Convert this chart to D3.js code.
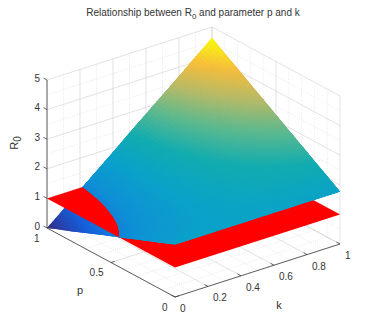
<!DOCTYPE html>
<html lang="en">
<head>
<meta charset="UTF-8">
<title>R0 surface</title>
<style>
    html, body { margin: 0; padding: 0; background: #fff; }
    svg { display: block; }
    text { font-family: "Liberation Sans", Arial, sans-serif; fill: #333; }
</style>
</head>
<body>
<div id="container"></div>
<script src="https://cdnjs.cloudflare.com/ajax/libs/d3/7.8.5/d3.min.js"></script>
<script>
"use strict";

var kValues = [0, 0.1, 0.2, 0.3, 0.4, 0.5, 0.6, 0.7, 0.8, 0.9, 1];
var pValues = [0, 0.1, 0.2, 0.3, 0.4, 0.5, 0.6, 0.7, 0.8, 0.9, 1];

// R0, one row per p, one column per k
var r0Values = [
    [1.77, 1.77, 1.77, 1.77, 1.77, 1.77, 1.77, 1.77, 1.77, 1.77, 1.77],
    [1.59, 1.64, 1.69, 1.73, 1.78, 1.82, 1.87, 1.92, 1.96, 2.01, 2.06],
    [1.42, 1.51, 1.60, 1.69, 1.79, 1.88, 1.97, 2.06, 2.16, 2.25, 2.34],
    [1.24, 1.38, 1.52, 1.66, 1.79, 1.93, 2.07, 2.21, 2.35, 2.49, 2.63],
    [1.06, 1.25, 1.43, 1.62, 1.80, 1.99, 2.17, 2.36, 2.54, 2.73, 2.91],
    [0.89, 1.12, 1.35, 1.58, 1.81, 2.04, 2.27, 2.51, 2.74, 2.97, 3.20],
    [0.71, 0.99, 1.26, 1.54, 1.82, 2.10, 2.37, 2.65, 2.93, 3.21, 3.49],
    [0.53, 0.86, 1.18, 1.50, 1.83, 2.15, 2.48, 2.80, 3.12, 3.45, 3.77],
    [0.35, 0.72, 1.09, 1.47, 1.84, 2.21, 2.58, 2.95, 3.32, 3.69, 4.06],
    [0.18, 0.59, 1.01, 1.43, 1.84, 2.26, 2.68, 3.09, 3.51, 3.93, 4.34],
    [0.00, 0.46, 0.93, 1.39, 1.85, 2.32, 2.78, 3.24, 3.70, 4.17, 4.63]
];
var planeLevel = 1;

var kTicks = [0, 0.2, 0.4, 0.6, 0.8, 1];
var pTicks = [0, 0.5, 1];
var zTicks = [0, 1, 2, 3, 4, 5];
var kMinor = [0.1, 0.3, 0.5, 0.7, 0.9];
var pMinor = [0.1, 0.2, 0.3, 0.4, 0.6, 0.7, 0.8, 0.9];
var zMinor = [0.5, 1.5, 2.5, 3.5, 4.5];
var parula = ["#352a87", "#1560dc", "#0f90d6", "#0ba2c9", "#12acb0", "#5cb98f", "#b4ba68", "#f6bd3c", "#f9fb0e"];

var width = 365, height = 321;
var origin = [175, 297]; // k=0, p=0, z=0 on screen

// oblique view: every data axis gets its own x and y pixel scale
var kx = d3.scaleLinear().domain([0, 1]).range([0, 165]);
var ky = d3.scaleLinear().domain([0, 1]).range([0, -53]);
var px = d3.scaleLinear().domain([0, 1]).range([0, -128]);
var py = d3.scaleLinear().domain([0, 1]).range([0, -69]);
var zy = d3.scaleLinear().domain([0, 5]).range([0, -148]);
var colour = d3.scaleSequential(d3.piecewise(d3.interpolateRgb, parula)).domain([0, 4.63]);

function project(k, p, z) {
    return [origin[0] + kx(k) + px(p), origin[1] + ky(k) + py(p) + zy(z)];
}

function polyPath(points) {
    return d3.line()(points.map(function(v) { return project(v[0], v[1], v[2]); })) + "Z";
}

var svg = d3.select("#container").append("svg")
    .attr("width", width)
    .attr("height", height);

// grid on the floor and the two back walls
var grid = svg.append("g").attr("fill", "none");

function gridLine(a, b, minor) {
    grid.append("path")
        .attr("d", d3.line()([project.apply(null, a), project.apply(null, b)]))
        .attr("stroke", minor ? "#dedede" : "#d6d6d6")
        .attr("stroke-width", minor ? 0.6 : 0.7)
        .attr("stroke-dasharray", minor ? "1,1.2" : null);
}

function drawGrid(ks, ps, zs, minor) {
    ks.forEach(function(k) {
        gridLine([k, 0, 0], [k, 1, 0], minor);
        gridLine([k, 1, 0], [k, 1, 5], minor);
    });
    ps.forEach(function(p) {
        gridLine([0, p, 0], [1, p, 0], minor);
        gridLine([1, p, 0], [1, p, 5], minor);
    });
    zs.forEach(function(z) {
        gridLine([0, 1, z], [1, 1, z], minor);
        gridLine([1, 1, z], [1, 0, z], minor);
    });
}
drawGrid(kMinor, pMinor, zMinor, true);
drawGrid(kTicks, pTicks, zTicks, false);

// interp shading: split each measured cell into small flat quads
var steps = 6;
var quads = [];
d3.range(pValues.length - 1).forEach(function(i) {
    d3.range(kValues.length - 1).forEach(function(j) {
        function at(u, v) {
            var z = (1 - u) * (1 - v) * r0Values[i][j] + u * (1 - v) * r0Values[i][j + 1] +
                    (1 - u) * v * r0Values[i + 1][j] + u * v * r0Values[i + 1][j + 1];
            return [kValues[j] + u * (kValues[j + 1] - kValues[j]),
                    pValues[i] + v * (pValues[i + 1] - pValues[i]), z];
        }
        d3.range(steps).forEach(function(a) {
            d3.range(steps).forEach(function(b) {
                quads.push([at(a / steps, b / steps), at((a + 1) / steps, b / steps),
                            at((a + 1) / steps, (b + 1) / steps), at(a / steps, (b + 1) / steps)]);
            });
        });
    });
});

function meanZ(q) {
    return d3.mean(q, function(v) { return v[2]; });
}

// keep the part of a quad that sits above the red plane
function clipAbove(q) {
    var out = [];
    q.forEach(function(a, i) {
        var b = q[(i + 1) % q.length];
        if (a[2] >= planeLevel) out.push(a);
        if ((a[2] >= planeLevel) !== (b[2] >= planeLevel)) {
            var t = (planeLevel - a[2]) / (b[2] - a[2]);
            out.push([a[0] + t * (b[0] - a[0]), a[1] + t * (b[1] - a[1]), planeLevel]);
        }
    });
    return out;
}

// thick strokes close the seams between quads, the clip keeps the outline sharp
function drawQuads(list, id) {
    svg.append("clipPath").attr("id", id)
        .append("path")
        .attr("d", list.map(polyPath).join(""));

    svg.append("g").attr("clip-path", "url(#" + id + ")")
        .selectAll("path")
        .data(list)
        .enter()
        .append("path")
        .attr("d", function(q) { return polyPath(q); })
        .attr("fill", function(q) { return colour(meanZ(q)); })
        .attr("stroke", function(q) { return colour(meanZ(q)); })
        .attr("stroke-width", 1.5);
}

drawQuads(quads, "surface-all");

svg.append("path")
    .attr("d", polyPath([[0, 0, planeLevel], [1, 0, planeLevel], [1, 1, planeLevel], [0, 1, planeLevel]]))
    .attr("fill", "#ff0000");

drawQuads(quads.map(clipAbove).filter(function(q) { return q.length > 2; }), "surface-top");

// axes
var axes = svg.append("g").attr("stroke", "#404040").attr("fill", "none").attr("stroke-width", 0.8);
[[[0, 1, 0], [0, 1, 5]], [[0, 1, 0], [0, 0, 0]], [[0, 0, 0], [1, 0, 0]]].forEach(function(s) {
    axes.append("path").attr("d", d3.line()([project.apply(null, s[0]), project.apply(null, s[1])]));
});

function tick(from, dx, dy) {
    axes.append("path").attr("d", d3.line()([from, [from[0] + dx, from[1] + dy]]));
}

var labels = svg.append("g").attr("font-size", 10);

zTicks.forEach(function(z) {
    var t = project(0, 1, z);
    tick(t, -3.5, -1.9);
    labels.append("text").attr("x", t[0] - 7).attr("y", t[1] + 1.5)
        .attr("text-anchor", "end").text(z);
});
pTicks.forEach(function(p) {
    var t = project(0, p, 0);
    tick(t, 3.8, -1.2);
    labels.append("text").attr("x", t[0] - 7.5).attr("y", t[1] + 13.5)
        .attr("text-anchor", "end").text(p);
});
kTicks.forEach(function(k) {
    var t = project(k, 0, 0);
    tick(t, -3.5, -1.9);
    labels.append("text").attr("x", t[0] + 5).attr("y", t[1] + 15)
        .attr("text-anchor", "start").text(k);
});

svg.append("text").attr("x", 279).attr("y", 309).attr("font-size", 11)
    .attr("text-anchor", "middle").text("k");
svg.append("text").attr("x", 80).attr("y", 294).attr("font-size", 11)
    .attr("text-anchor", "middle").text("p");

var zLabel = svg.append("text")
    .attr("transform", "translate(18,143) rotate(-90)")
    .attr("font-size", 11)
    .attr("text-anchor", "middle");
zLabel.append("tspan").text("R");
zLabel.append("tspan").attr("dy", 3).attr("font-size", 10).text("0");

var title = svg.append("text")
    .attr("x", 193).attr("y", 16)
    .attr("font-size", 10)
    .attr("fill", "#222")
    .attr("text-anchor", "middle");
title.append("tspan").text("Relationship between R");
title.append("tspan").attr("dy", 3).attr("font-size", 8).text("0");
title.append("tspan").attr("dy", -3).text(" and parameter p and k");
</script>
</body>
</html>
